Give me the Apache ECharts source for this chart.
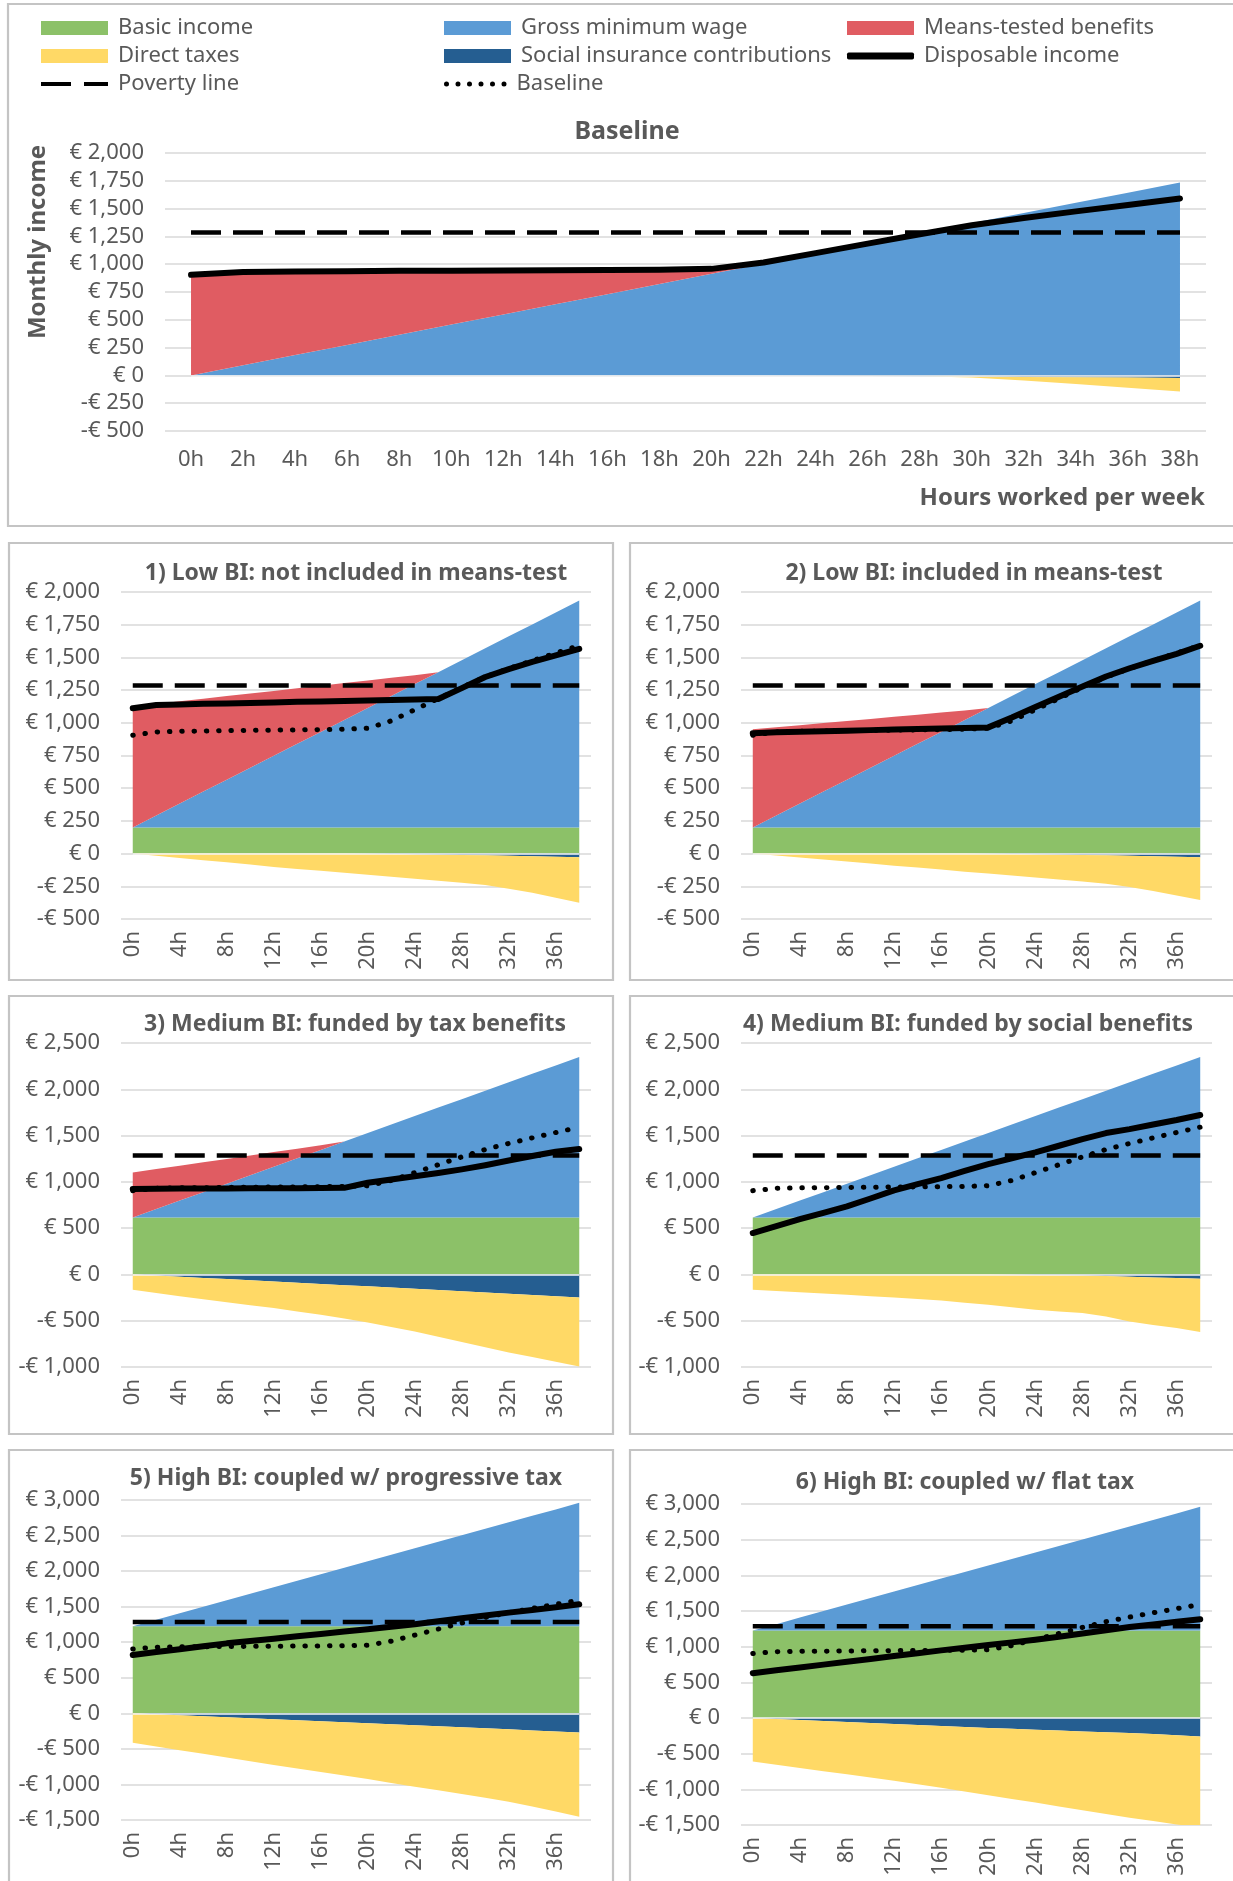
<!DOCTYPE html>
<html>
<head>
<meta charset="utf-8">
<script src="https://cdn.jsdelivr.net/npm/echarts@6/dist/echarts.min.js"></script>
<style>html,body{margin:0;padding:0;background:#fff}#chart{width:1233px;height:1881px}</style>
</head>
<body>
<div id="chart"></div>
<script>
// ---------- DATA ----------
const hours = ['0h','2h','4h','6h','8h','10h','12h','14h','16h','18h','20h','22h','24h','26h','28h','30h','32h','34h','36h','38h'];

const grossWage = [0,91,183,274,365,457,548,639,730,822,913,1004,1096,1187,1278,1370,1461,1552,1643,1735];
const povertyLine = [1285,1285,1285,1285,1285,1285,1285,1285,1285,1285,1285,1285,1285,1285,1285,1285,1285,1285,1285,1285];

// Baseline
const mtb0  = [887,832,745,656,567,478,389,301,213,124,42,0,0,0,0,0,0,0,0,0];
const sic0  = [0,0,0,0,0,0,0,0,0,0,0,-2,-4,-6,-8,-10,-14,-17,-20,-24];
const tax0  = [0,0,0,0,0,0,0,0,0,0,0,0,0,0,0,-10,-32,-60,-90,-120];
const disp0 = [905,930,935,937,940,942,944,946,948,951,958,1015,1100,1185,1270,1350,1415,1475,1533,1591];

// Basic income levels
const biLow    = [200,200,200,200,200,200,200,200,200,200,200,200,200,200,200,200,200,200,200,200];
const biMedium = [615,615,615,615,615,615,615,615,615,615,615,615,615,615,615,615,615,615,615,615];
const biHigh   = [1225,1225,1225,1225,1225,1225,1225,1225,1225,1225,1225,1225,1225,1225,1225,1225,1225,1225,1225,1225];

// 1) Low BI: not included in means-test
const mtb1  = [898,853,781,710,639,567,496,425,354,282,211,140,68,0,0,0,0,0,0,0];
const sic1  = [0,0,0,0,0,0,0,0,0,0,-2,-4,-6,-8,-10,-13,-16,-20,-24,-28];
const tax1  = [0,-17,-34,-50,-67,-84,-102,-117,-132,-147,-160,-173,-186,-199,-212,-227,-252,-280,-314,-347];
const disp1 = [1111,1136,1140,1145,1148,1152,1156,1160,1163,1167,1171,1175,1178,1182,1265,1350,1410,1465,1515,1565];

// 2) Low BI: included in means-test
const mtb2  = [750,675,599,524,449,373,298,223,148,72,0,0,0,0,0,0,0,0,0,0];
const sic2  = [0,0,0,0,0,0,0,0,0,0,-2,-4,-6,-8,-10,-13,-16,-20,-24,-28];
const tax2  = [0,-15,-30,-46,-61,-76,-92,-107,-122,-138,-151,-164,-177,-190,-203,-217,-239,-265,-296,-327];
const disp2 = [920,928,932,936,940,944,948,952,956,960,965,1040,1120,1200,1277,1354,1417,1474,1527,1589];

// 3) Medium BI: funded by tax benefits
const mtb3  = [487,433,377,323,268,213,159,104,50,0,0,0,0,0,0,0,0,0,0,0];
const sic3  = [0,-12,-25,-38,-50,-63,-76,-90,-103,-116,-128,-142,-155,-168,-182,-196,-210,-223,-236,-249];
const tax3  = [-166,-188,-210,-230,-250,-269,-288,-310,-333,-360,-390,-425,-462,-505,-548,-592,-634,-670,-707,-745];
const disp3 = [922,925,927,928,929,930,931,932,933,935,990,1025,1060,1095,1135,1180,1230,1280,1325,1355];

// 4) Medium BI: funded by social benefits
const sic4  = [0,0,0,0,0,0,0,0,0,0,-2,-4,-6,-8,-12,-18,-25,-32,-39,-46];
const tax4  = [-166,-180,-193,-207,-220,-235,-250,-266,-281,-305,-326,-351,-376,-392,-406,-436,-483,-513,-541,-577];
const disp4 = [447,522,597,666,735,820,908,975,1041,1118,1192,1255,1318,1390,1462,1527,1570,1620,1668,1722];

// 5) High BI: coupled w/ progressive tax
const sic5  = [0,-14,-28,-42,-56,-70,-84,-98,-112,-126,-140,-154,-168,-182,-196,-210,-225,-240,-255,-268];
const tax5  = [-412,-451,-490,-528,-566,-605,-643,-677,-713,-749,-785,-824,-863,-901,-939,-978,-1017,-1070,-1125,-1185];
const disp5 = [820,862,902,943,984,1017,1050,1083,1116,1150,1183,1218,1252,1294,1336,1376,1416,1453,1491,1533];

// 6) High BI: coupled w/ flat tax
const sic6  = [0,-14,-28,-42,-56,-70,-84,-98,-112,-126,-140,-152,-164,-176,-188,-200,-212,-225,-242,-258];
const tax6  = [-609,-641,-672,-703,-734,-765,-796,-830,-866,-904,-942,-982,-1022,-1064,-1104,-1145,-1185,-1220,-1250,-1279];
const disp6 = [628,668,708,748,788,828,868,908,948,985,1022,1060,1097,1140,1185,1230,1275,1312,1348,1383];

const legendNames = ['Basic income','Gross minimum wage','Means-tested benefits','Direct taxes','Social insurance contributions','Disposable income','Poverty line','Baseline'];

// ---------- STYLE / LAYOUT ----------
const F = '"Noto Sans", "DejaVu Sans", sans-serif';
const TXT = '#595959';
const GREEN = '#8CC168', BLUE = '#5B9BD5', RED = '#E05C62', YELLOW = '#FFD966', DARK = '#255E91';

const panels = [
  {title:'Baseline', tx:627, ty:132, tsize:25, grid:{left:165, top:153, width:1041, height:278}, min:-500, max:2000, interval:250, rotate:0,
   bi:null, mtb:mtb0, sic:sic0, tax:tax0, disp:disp0, dotted:false},
  {title:'1) Low BI: not included in means-test', tx:356, ty:573, tsize:23, grid:{left:121, top:592, width:470, height:327}, min:-500, max:2000, interval:250, rotate:90,
   bi:biLow, mtb:mtb1, sic:sic1, tax:tax1, disp:disp1, dotted:true},
  {title:'2) Low BI: included in means-test', tx:974, ty:573, tsize:23, grid:{left:741, top:592, width:471, height:327}, min:-500, max:2000, interval:250, rotate:90,
   bi:biLow, mtb:mtb2, sic:sic2, tax:tax2, disp:disp2, dotted:true},
  {title:'3) Medium BI: funded by tax benefits', tx:355, ty:1024, tsize:23, grid:{left:121, top:1043, width:470, height:324}, min:-1000, max:2500, interval:500, rotate:90,
   bi:biMedium, mtb:mtb3, sic:sic3, tax:tax3, disp:disp3, dotted:true},
  {title:'4) Medium BI: funded by social benefits', tx:968, ty:1024, tsize:23, grid:{left:741, top:1043, width:471, height:324}, min:-1000, max:2500, interval:500, rotate:90,
   bi:biMedium, mtb:null, sic:sic4, tax:tax4, disp:disp4, dotted:true},
  {title:'5) High BI: coupled w/ progressive tax', tx:346, ty:1478, tsize:23, grid:{left:121, top:1500, width:470, height:320}, min:-1500, max:3000, interval:500, rotate:90,
   bi:biHigh, mtb:null, sic:sic5, tax:tax5, disp:disp5, dotted:true},
  {title:'6) High BI: coupled w/ flat tax', tx:965, ty:1482, tsize:23, grid:{left:741, top:1504, width:471, height:321}, min:-1500, max:3000, interval:500, rotate:90,
   bi:biHigh, mtb:null, sic:sic6, tax:tax6, disp:disp6, dotted:true}
];

function euro(v){
  const a = Math.abs(v).toLocaleString('en-US');
  return (v < 0 ? '-€ ' : '€ ') + a;
}

function area(name, data, color, stack, i, extra){
  return Object.assign({
    name, type:'line', data, xAxisIndex:i, yAxisIndex:i, stack, stackStrategy:'all',
    symbol:'none', showSymbol:false, color, itemStyle:{color},
    lineStyle:{width:0, color}, areaStyle:{color, opacity:1}, z:2, silent:true
  }, extra || {});
}

const grids = [], xAxes = [], yAxes = [], series = [], graphics = [];

panels.forEach((p, i) => {
  grids.push(Object.assign({containLabel:false}, p.grid));
  xAxes.push({
    type:'category', gridIndex:i, data:hours, boundaryGap:true,
    axisLine:{show:false}, axisTick:{show:false},
    axisLabel:{interval: p.rotate ? 1 : 0, rotate:p.rotate, margin: p.rotate ? 12 : 18,
               fontSize:22, color:TXT, fontFamily:F}
  });
  yAxes.push({
    type:'value', gridIndex:i, min:p.min, max:p.max, interval:p.interval,
    axisLine:{show:false}, axisTick:{show:false},
    splitLine:{lineStyle:{color:'#D9D9D9', width:1.5}},
    axisLabel:{formatter:euro, fontSize:22, color:TXT, fontFamily:F, margin:21}
  });
  const ps = 'pos' + i, ns = 'neg' + i;
  if (p.bi) series.push(area('Basic income', p.bi, GREEN, ps, i));
  series.push(area('Gross minimum wage', grossWage, BLUE, ps, i));
  if (p.mtb) series.push(area('Means-tested benefits', p.mtb, RED, ps, i));
  series.push(area('Social insurance contributions', p.sic, DARK, ns, i));
  series.push(area('Direct taxes', p.tax, YELLOW, ns, i, {
    markLine:{silent:true, symbol:'none', animation:false, label:{show:false},
      lineStyle:{color:'#F4F4F4', width:1.5, type:'solid'},
      data:[[{coord:['0h',0]},{coord:['38h',0]}]]}
  }));
  series.push({name:'Disposable income', type:'line', data:p.disp, xAxisIndex:i, yAxisIndex:i,
    symbol:'none', showSymbol:false, color:'#000', z:5, silent:true,
    lineStyle:{color:'#000', width:6, cap:'round', join:'round'}});
  series.push({name:'Poverty line', type:'line', data:povertyLine, xAxisIndex:i, yAxisIndex:i,
    symbol:'none', showSymbol:false, color:'#000', z:6, silent:true,
    lineStyle:{color:'#000', width:4.5, type:[30,12]}});
  if (p.dotted) series.push({name:'Baseline', type:'line', data:disp0, xAxisIndex:i, yAxisIndex:i,
    symbol:'none', showSymbol:false, color:'#000', z:7, silent:true,
    lineStyle:{color:'#000', width:5, type:[0.5,11.8], cap:'round'}});

  graphics.push({type:'text', x:p.tx, y:p.ty, z:10, silent:true,
    style:{text:p.title, fill:TXT, font:'bold ' + p.tsize + 'px ' + F,
           textAlign:'center', align:'center', textVerticalAlign:'middle', verticalAlign:'middle'}});
});

// panel borders
const borders = [
  [8,4,1230,522],
  [9,543,604,437],[630,543,610,437],
  [9,996,604,438],[630,996,610,438],
  [9,1450,604,480],[630,1450,610,480]
];
borders.forEach(b => graphics.push({type:'rect', silent:true, z:0,
  shape:{x:b[0], y:b[1], width:b[2], height:b[3]},
  style:{fill:'none', stroke:'#C4C4C4', lineWidth:2.2}}));

graphics.push({type:'text', x:38, y:242, rotation:Math.PI/2, silent:true, z:10,
  style:{text:'Monthly income', fill:TXT, font:'bold 24px ' + F,
         textAlign:'center', align:'center', textVerticalAlign:'middle', verticalAlign:'middle'}});
graphics.push({type:'text', x:1205, y:498, silent:true, z:10,
  style:{text:'Hours worked per week', fill:TXT, font:'bold 24px ' + F,
         textAlign:'right', align:'right', textVerticalAlign:'middle', verticalAlign:'middle'}});

// legend
function circlesPath(n, gap, r){
  let s = 'path://';
  for (let k = 0; k < n; k++){
    const cx = r + k*gap, cy = r;
    s += 'M' + (cx - r) + ',' + cy + 'a' + r + ',' + r + ' 0 1,0 ' + (2*r) + ',0a' + r + ',' + r + ' 0 1,0 ' + (-2*r) + ',0Z';
  }
  return s;
}
const legendPos = [[41,29],[444,29],[847,29],[41,57],[444,57],[847,57],[41,85],[444,85]];
const legendIcon = {
  'Basic income':{icon:'rect', color:GREEN, w:67, h:14},
  'Gross minimum wage':{icon:'rect', color:BLUE, w:67, h:14},
  'Means-tested benefits':{icon:'rect', color:RED, w:67, h:14},
  'Direct taxes':{icon:'rect', color:YELLOW, w:67, h:14},
  'Social insurance contributions':{icon:'rect', color:DARK, w:67, h:14},
  'Disposable income':{icon:'roundRect', color:'#000', w:67, h:7},
  'Poverty line':{icon:'path://M0,0H30V4H0Z M43,0H67V4H43Z', color:'#000', w:67, h:4},
  'Baseline':{icon:circlesPath(6, 11.5, 2.5), color:'#000', w:62.5, h:5}
};
const legends = legendNames.map((n, k) => {
  const ic = legendIcon[n];
  return {
    data:[{name:n, icon:ic.icon, itemStyle:{color:ic.color, borderWidth:0}}],
    left:legendPos[k][0], top:legendPos[k][1] - 12, padding:0,
    itemWidth:ic.w, itemHeight:ic.h, selectedMode:false,
    textStyle:{fontSize:22, color:TXT, fontFamily:F, padding:[0,0,0,5]}
  };
});

const chart = echarts.init(document.getElementById('chart'), null, {renderer:'canvas'});
chart.setOption({
  animation:false,
  backgroundColor:'#fff',
  textStyle:{fontFamily:F},
  grid:grids, xAxis:xAxes, yAxis:yAxes, series:series,
  legend:legends, graphic:graphics
});
</script>
</body>
</html>
